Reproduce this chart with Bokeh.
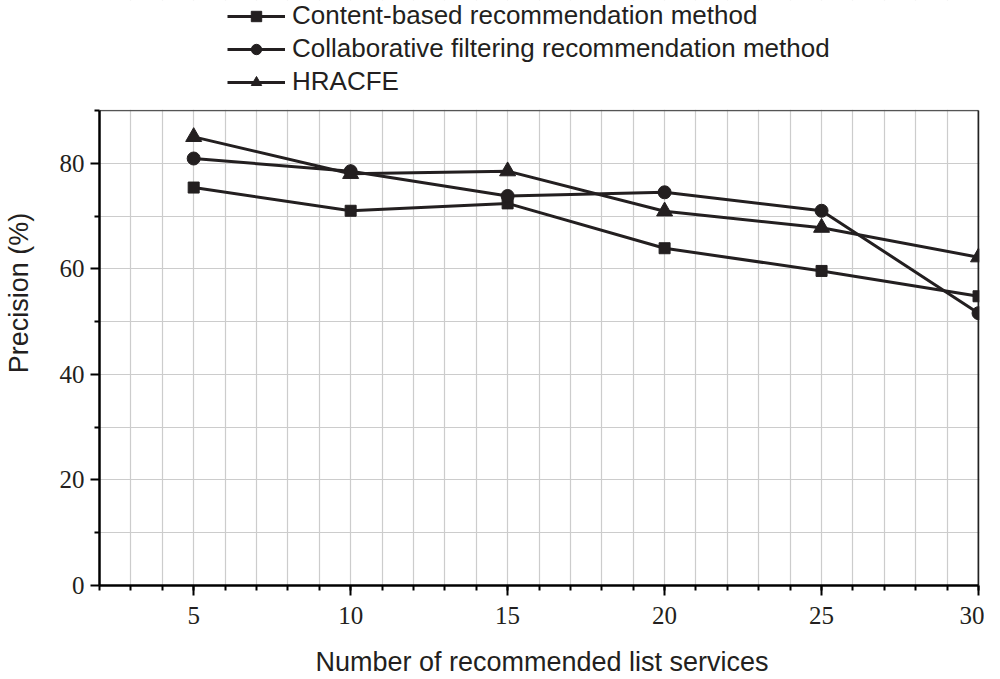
from bokeh.plotting import figure
from bokeh.models import Range1d, FixedTicker, Legend, LegendItem, BoxAnnotation
from bokeh.embed import file_html
from bokeh.resources import INLINE

# ---- data ----
x_values = [5, 10, 15, 20, 25, 30]
content_based = [75.4, 71.0, 72.4, 63.9, 59.6, 54.8]
collaborative = [80.9, 78.5, 73.8, 74.5, 71.0, 51.6]
hracfe = [85.0, 78.0, 78.5, 70.9, 67.8, 62.2]
series_names = ["Content-based recommendation method",
                "Collaborative filtering recommendation method",
                "HRACFE"]
x_major = [5, 10, 15, 20, 25, 30]
x_minor = list(range(2, 31))
y_major = [0, 20, 40, 60, 80]
y_minor = [10, 30, 50, 70, 90]

X_MIN, X_MAX, Y_MIN, Y_MAX = 2, 30, 0, 90
INK = "#231f20"

# frame extends to the figure's top/right edges so the legend and the
# end markers are not clipped; the visible box is drawn from 2..30 x 0..90
p = figure(width=984, height=679, output_backend="svg", toolbar_location=None,
           x_range=Range1d(X_MIN, X_MAX + 0.19), y_range=Range1d(Y_MIN, Y_MAX + 20.84),
           min_border_left=89, min_border_right=0, min_border_top=0,
           min_border_bottom=94)

p.outline_line_color = None
p.background_fill_color = "white"
p.border_fill_color = "white"

# grids
p.xgrid.ticker = FixedTicker(ticks=list(range(X_MIN + 1, X_MAX)))
p.ygrid.ticker = FixedTicker(ticks=list(range(Y_MIN + 10, Y_MAX, 10)))
for g in (p.xgrid, p.ygrid):
    g.grid_line_color = "#cccccc"
    g.grid_line_width = 1.2

# white masks outside the visible plot box (grid lines stop at the box);
# drawn at glyph level before the data glyphs so markers stay on top
p.add_layout(BoxAnnotation(bottom=Y_MAX + 0.15, fill_color="white", fill_alpha=1,
                           line_color=None, level="glyph"))
p.add_layout(BoxAnnotation(left=X_MAX + 0.03, fill_color="white", fill_alpha=1,
                           line_color=None, level="glyph"))

# frame borders (top and right)
p.segment(x0=[X_MIN], y0=[Y_MAX], x1=[X_MAX], y1=[Y_MAX], line_color="#555555", line_width=1.5)
p.segment(x0=[X_MAX], y0=[Y_MIN], x1=[X_MAX], y1=[Y_MAX], line_color="#222222", line_width=2)

# axes
p.xaxis.ticker = FixedTicker(ticks=x_major, minor_ticks=x_minor)
p.yaxis.ticker = FixedTicker(ticks=y_major, minor_ticks=y_minor)
p.xaxis.bounds = (X_MIN, X_MAX)
p.yaxis.bounds = (Y_MIN, Y_MAX)
for ax in (p.xaxis, p.yaxis):
    ax.axis_line_color = "black"
    ax.axis_line_width = 2.5
    ax.major_tick_line_color = "black"
    ax.major_tick_line_width = 2
    ax.minor_tick_line_color = "black"
    ax.minor_tick_line_width = 2
    ax.major_tick_in = 0
    ax.minor_tick_in = 0
    ax.major_label_text_font = "Liberation Serif"
    ax.major_label_text_font_size = "25px"
    ax.major_label_text_color = INK
    ax.axis_label_text_font = "Liberation Sans"
    ax.axis_label_text_font_size = "27px"
    ax.axis_label_text_font_style = "normal"
    ax.axis_label_text_color = INK

p.xaxis.major_tick_out = 10
p.xaxis.minor_tick_out = 5
p.yaxis.major_tick_out = 9
p.yaxis.minor_tick_out = 5
p.xaxis.major_label_standoff = 11
p.yaxis.major_label_standoff = 6
p.xaxis.axis_label = "Number of recommended list services"
p.yaxis.axis_label = "Precision (%)"
p.xaxis.axis_label_standoff = 20
p.yaxis.axis_label_standoff = 23

items = []
for ys, marker, size, name in [(content_based, "square", 11, series_names[0]),
                               (collaborative, "circle", 13, series_names[1]),
                               (hracfe, "triangle", 16, series_names[2])]:
    ln = p.line(x_values, ys, line_color=INK, line_width=3)
    sc = p.scatter(x_values, ys, marker=marker, size=size, fill_color=INK, line_color=INK)
    items.append(LegendItem(label=name, renderers=[ln, sc]))

legend = Legend(items=items, location=(128, 488), orientation="vertical",
                label_text_font="Liberation Sans", label_text_font_size="26px",
                label_text_color=INK, glyph_width=58, glyph_height=26,
                label_height=26, label_standoff=7, spacing=2, padding=0,
                margin=0, border_line_color=None, background_fill_alpha=0)
p.add_layout(legend, "center")

open("out.html", "w").write(file_html(p, INLINE))
